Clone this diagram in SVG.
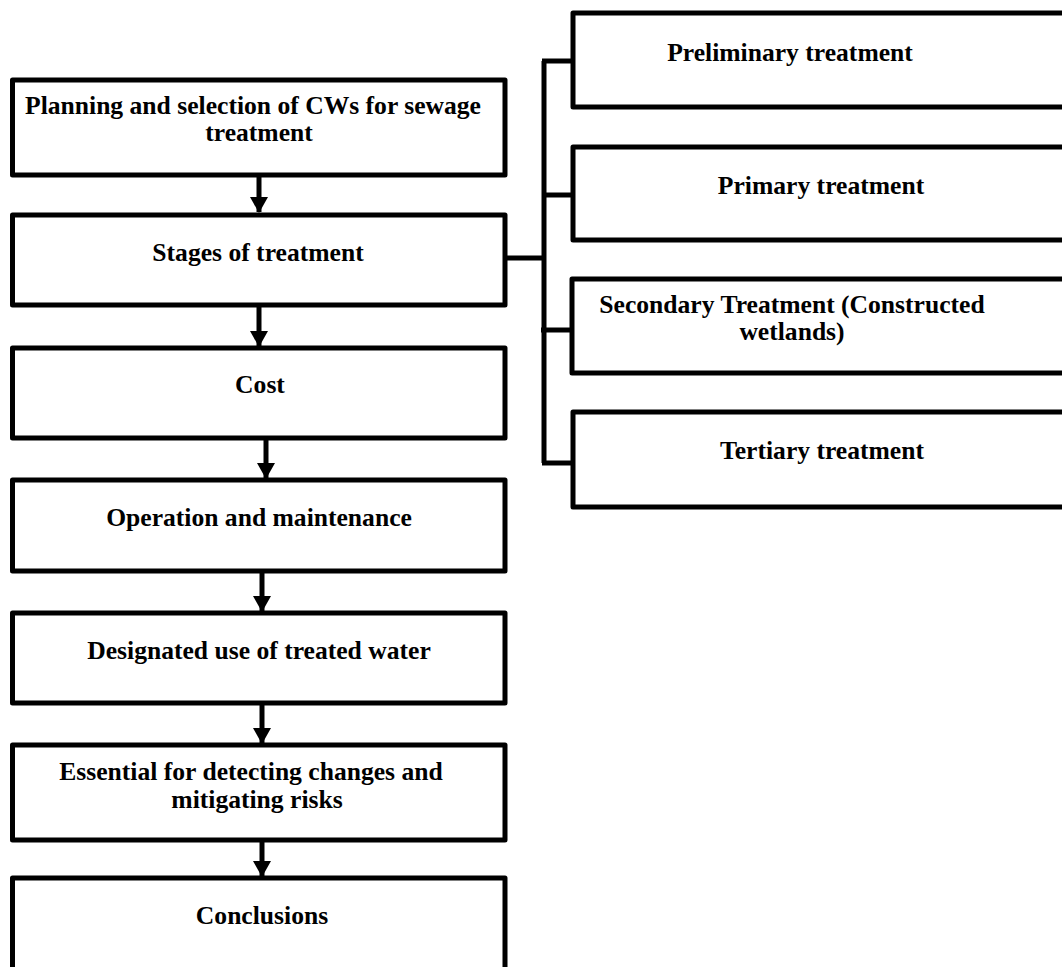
<svg xmlns="http://www.w3.org/2000/svg" width="1062" height="967" viewBox="0 0 1062 967">
<defs>
<style>
.box{fill:#fff;stroke:#000;stroke-width:5;stroke-linejoin:round}
.t{font-family:"Liberation Serif","Times New Roman",serif;font-weight:bold;font-size:25.6px;fill:#000;text-anchor:middle}
.ln{stroke:#000;stroke-width:5;fill:none}
</style>
<marker id="ah" markerUnits="userSpaceOnUse" markerWidth="16" markerHeight="18" refX="15" refY="9" orient="auto" viewBox="0 0 16 18">
<path d="M0,0 L16,9 L0,18 Z" fill="#000"/>
</marker>
</defs>
<rect width="1062" height="967" fill="#fff"/>
<g id="connectors">
<line class="ln" x1="259" y1="175" x2="259" y2="212" marker-end="url(#ah)"/>
<line class="ln" x1="259" y1="305" x2="259" y2="346" marker-end="url(#ah)"/>
<line class="ln" x1="266" y1="438" x2="266" y2="478" marker-end="url(#ah)"/>
<line class="ln" x1="262" y1="571" x2="262" y2="611" marker-end="url(#ah)"/>
<line class="ln" x1="262" y1="703" x2="262" y2="743" marker-end="url(#ah)"/>
<line class="ln" x1="262" y1="840" x2="262" y2="876" marker-end="url(#ah)"/>
<polyline class="ln" points="505,258 544,258"/>
<line class="ln" x1="544" y1="61" x2="544" y2="463"/>
<line class="ln" x1="542" y1="61" x2="573" y2="61"/>
<line class="ln" x1="542" y1="195" x2="573" y2="195"/>
<line class="ln" x1="541" y1="330" x2="572" y2="330"/>
<line class="ln" x1="542" y1="463" x2="573" y2="463"/>
</g>
<g id="n1"><rect class="box" x="12.5" y="80" width="492.5" height="95"/>
<text class="t" x="253" y="114">Planning and selection of CWs for sewage</text>
<text class="t" x="259" y="141">treatment</text></g>
<g id="n2"><rect class="box" x="12.5" y="215" width="492.5" height="90"/>
<text class="t" x="258" y="261">Stages of treatment</text></g>
<g id="n3"><rect class="box" x="12.5" y="348" width="492.5" height="90"/>
<text class="t" x="260" y="393">Cost</text></g>
<g id="n4"><rect class="box" x="12.5" y="480" width="492.5" height="91"/>
<text class="t" x="259" y="526">Operation and maintenance</text></g>
<g id="n5"><rect class="box" x="12.5" y="613" width="492.5" height="90"/>
<text class="t" x="259" y="659">Designated use of treated water</text></g>
<g id="n6"><rect class="box" x="12.5" y="745" width="492.5" height="95"/>
<text class="t" x="251" y="780">Essential for detecting changes and</text>
<text class="t" x="257" y="808">mitigating risks</text></g>
<g id="n7"><rect class="box" x="12.5" y="878" width="492.5" height="140"/>
<text class="t" x="262" y="924">Conclusions</text></g>
<g id="r1"><rect class="box" x="573" y="13" width="520" height="94"/>
<text class="t" x="790" y="61">Preliminary treatment</text></g>
<g id="r2"><rect class="box" x="573" y="147" width="520" height="93"/>
<text class="t" x="821" y="194">Primary treatment</text></g>
<g id="r3"><rect class="box" x="572" y="279" width="520" height="94"/>
<text class="t" x="792" y="313">Secondary Treatment (Constructed</text>
<text class="t" x="792" y="340">wetlands)</text></g>
<g id="r4"><rect class="box" x="573" y="412" width="520" height="95"/>
<text class="t" x="822" y="459">Tertiary treatment</text></g>
</svg>
